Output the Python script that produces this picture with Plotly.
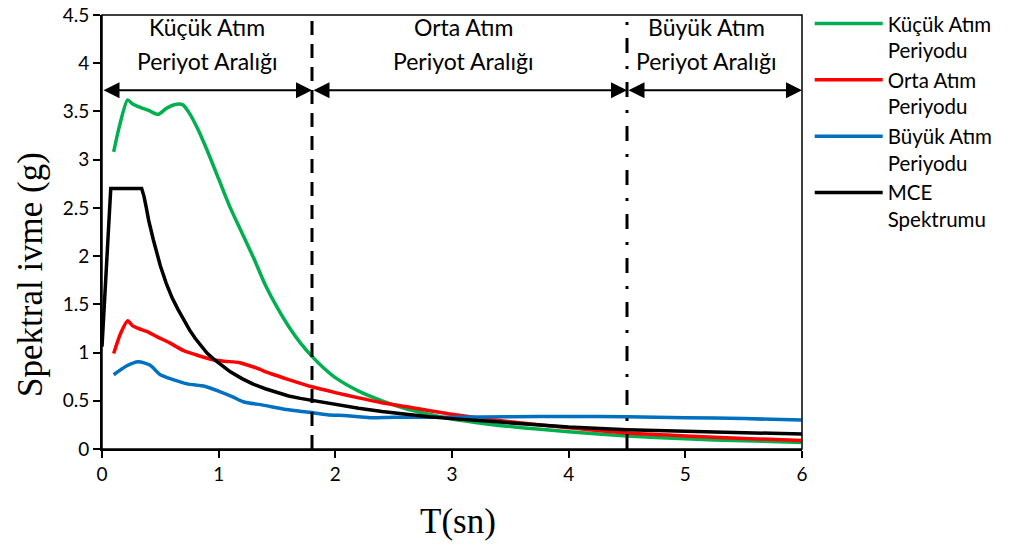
import plotly.graph_objects as go

# ---- data ----
T_kucuk = [0.1,0.15,0.22,0.26,0.31,0.4,0.48,0.55,0.62,0.69,0.75,0.82,0.9,1.0,1.1,1.2,1.3,1.4,1.5,1.6,1.7,1.8,1.9,2.0,2.2,2.4,2.6,2.8,3.0,3.3,3.6,4.0,4.5,5.0,5.5,6.0]
v_kucuk = [3.08,3.35,3.62,3.58,3.55,3.51,3.47,3.53,3.57,3.57,3.48,3.32,3.1,2.8,2.5,2.24,1.98,1.7,1.47,1.27,1.1,0.96,0.84,0.74,0.6,0.5,0.42,0.36,0.31,0.26,0.22,0.18,0.135,0.105,0.085,0.068]

T_orta = [0.1,0.16,0.22,0.26,0.31,0.4,0.47,0.58,0.7,0.81,0.95,1.05,1.18,1.3,1.45,1.6,1.8,2.0,2.2,2.4,2.6,2.8,3.0,3.3,3.6,4.0,4.5,5.0,5.5,6.0]
v_orta = [0.99,1.2,1.33,1.28,1.25,1.21,1.165,1.1,1.02,0.975,0.925,0.91,0.895,0.85,0.78,0.72,0.645,0.585,0.53,0.48,0.44,0.4,0.36,0.31,0.27,0.22,0.165,0.135,0.11,0.088]

T_buyuk = [0.1,0.21,0.31,0.41,0.5,0.61,0.73,0.88,1.01,1.12,1.21,1.38,1.58,1.78,1.93,2.1,2.3,2.5,2.8,3.0,3.5,4.0,4.5,5.0,5.5,6.0]
v_buyuk = [0.77,0.86,0.905,0.87,0.77,0.72,0.675,0.65,0.595,0.54,0.49,0.455,0.41,0.38,0.355,0.345,0.325,0.33,0.33,0.33,0.335,0.338,0.335,0.325,0.315,0.30]

T_mce = [0,0.075,0.34,0.36,0.38,0.4,0.44,0.5,0.55,0.6,0.65,0.7,0.75,0.8,0.85,0.9,0.95,1.0,1.1,1.2,1.3,1.4,1.5,1.6,1.7,1.8,1.9,2.0,2.2,2.4,2.6,2.8,3.0,3.2,3.6,4.0,4.5,5.0,5.5,6.0]
v_mce = [1.06,2.7,2.7,2.62,2.5,2.37,2.17,1.9,1.72,1.57,1.45,1.34,1.235,1.145,1.065,0.995,0.94,0.89,0.8,0.73,0.67,0.625,0.585,0.55,0.525,0.505,0.48,0.46,0.423,0.39,0.36,0.335,0.315,0.295,0.262,0.228,0.2,0.183,0.168,0.155]

series_names = ["Küçük Atım<br>Periyodu", "Orta Atım<br>Periyodu", "Büyük Atım<br>Periyodu", "MCE<br>Spektrumu"]
series_colors = ["#00B050", "#FF0000", "#0070C0", "#000000"]

region_bounds = [0, 1.8, 4.5, 6]
region_line1 = ["Küçük Atım", "Orta Atım", "Büyük Atım"]
region_line2 = ["Periyot Aralığı", "Periyot Aralığı", "Periyot Aralığı"]
region_label_x = [0.9, 3.1, 5.18]
arrow_y = 3.72
label_y1 = 4.38
label_y2 = 4.02

x_ticks = [0, 1, 2, 3, 4, 5, 6]
y_ticks = [0, 0.5, 1, 1.5, 2, 2.5, 3, 3.5, 4, 4.5]
y_tick_text = ["0", "0.5", "1", "1.5", "2", "2.5", "3", "3.5", "4", "4.5"]

x_title = "T(sn)"
y_title = "Spektral ivme (g)"

FONT = "Lato"
SERIF = "Liberation Serif"

fig = go.Figure()
data = [(T_kucuk, v_kucuk), (T_orta, v_orta), (T_buyuk, v_buyuk), (T_mce, v_mce)]
for i, (tx, vy) in enumerate(data):
    if i == 3:
        line = dict(color=series_colors[i], width=3.5, shape="linear")
    else:
        line = dict(color=series_colors[i], width=3.5, shape="spline", smoothing=0.7)
    fig.add_trace(go.Scatter(x=tx, y=vy, mode="lines", name=series_names[i], line=line))

# region boundary lines
fig.add_shape(type="line", xref="x", yref="y", x0=region_bounds[1], x1=region_bounds[1], y0=0, y1=4.5,
              line=dict(color="black", width=3, dash="14px,9px"))
fig.add_shape(type="line", xref="x", yref="y", x0=region_bounds[2], x1=region_bounds[2], y0=0, y1=4.5,
              line=dict(color="black", width=3, dash="15px,13px,3px,13px"))

# frame
fig.add_shape(type="rect", xref="paper", yref="paper", x0=0, x1=1, y0=0, y1=1,
              line=dict(color="black", width=1.5))

annotations = []
for k in range(3):
    annotations.append(dict(
        x=region_bounds[k + 1], y=arrow_y, ax=region_bounds[k], ay=arrow_y,
        xref="x", yref="y", axref="x", ayref="y", text="",
        showarrow=True, arrowhead=2, startarrowhead=2, arrowside="end+start",
        arrowwidth=2, arrowsize=1.6, startarrowsize=1.6, arrowcolor="black",
        standoff=0, startstandoff=0,
    ))
    for txt, yy in ((region_line1[k], label_y1), (region_line2[k], label_y2)):
        annotations.append(dict(
            x=region_label_x[k], y=yy, xref="x", yref="y", text=txt,
            showarrow=False, font=dict(family=FONT, size=23, color="black"),
            xanchor="center", yanchor="middle", align="center",
        ))

# axis titles
annotations.append(dict(x=0.509, y=-0.166, xref="paper", yref="paper", text=x_title, showarrow=False,
                        font=dict(family=SERIF, size=35, color="black"), xanchor="center", yanchor="middle"))
annotations.append(dict(x=-0.103, y=0.403, xref="paper", yref="paper", text=y_title, showarrow=False,
                        textangle=-90, font=dict(family=SERIF, size=35, color="black"),
                        xanchor="center", yanchor="middle"))

fig.update_layout(
    width=1011, height=545,
    margin=dict(l=102, r=209, t=15, b=96, autoexpand=False),
    paper_bgcolor="white", plot_bgcolor="white",
    font=dict(family=FONT, size=19, color="black"),
    annotations=annotations,
    showlegend=True,
    legend=dict(x=1.011, y=1.026, xanchor="left", yanchor="top", xref="paper",
                font=dict(family=FONT, size=20.5, color="black"),
                valign="top", itemwidth=68, tracegroupgap=0, bgcolor="rgba(0,0,0,0)"),
    xaxis=dict(range=[0, 6], tickvals=x_ticks, ticks="outside", ticklen=7, tickwidth=2,
               tickcolor="black", showline=True, linecolor="black", linewidth=2,
               showgrid=False, zeroline=False, tickfont=dict(family=FONT, size=19)),
    yaxis=dict(range=[0, 4.5], tickvals=y_ticks, ticktext=y_tick_text, ticks="outside", ticklen=7, tickwidth=2,
               tickcolor="black", showline=True, linecolor="black", linewidth=2,
               showgrid=False, zeroline=False, tickfont=dict(family=FONT, size=19)),
)

fig.write_html("out.html")
